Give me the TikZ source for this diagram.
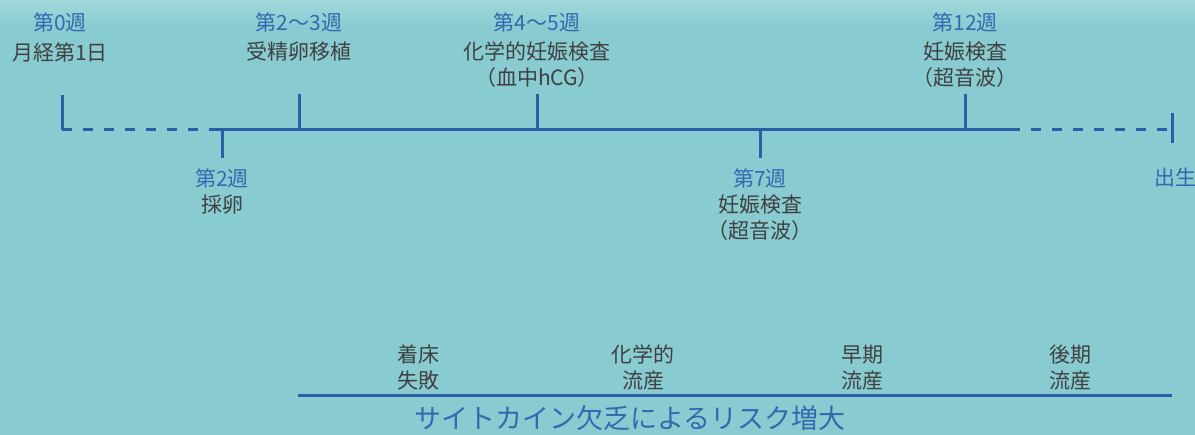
\documentclass[tikz,border=0pt]{standalone}
\usepackage{fontspec}
\setmainfont{Noto Sans CJK JP}
\definecolor{bg}{HTML}{88CBD1}
\definecolor{bgtop}{HTML}{A0D8DB}
\definecolor{lineblue}{HTML}{2A5EA6}
\definecolor{txtblue}{HTML}{2F6BAE}
\definecolor{txtdark}{HTML}{404040}
\begin{document}
\begin{tikzpicture}[x=1pt,y=-1pt,
  wk/.style={text=txtblue,font=\fontsize{21}{24}\selectfont,inner sep=0pt,anchor=center},
  ds/.style={text=txtdark,font=\fontsize{21}{26}\selectfont,inner sep=0pt,anchor=center,align=center},
  tl/.style={draw=lineblue,line width=3pt},
  tld/.style={tl,dash pattern=on 10pt off 11pt}]
\useasboundingbox (0,0) rectangle (1195,435);
\fill[bg] (0,0) rectangle (1195,435);
\shade[top color=bgtop,bottom color=bg] (0,0) rectangle (1195,28);
% timeline coordinates
\coordinate (t0) at (62,130);
\coordinate (t0u) at (62,95);
\coordinate (s0) at (218,130);
\coordinate (t2) at (222,130);
\coordinate (t2d) at (222,158);
\coordinate (t23) at (299,130);
\coordinate (t23u) at (299,94);
\coordinate (t45) at (537,130);
\coordinate (t45u) at (537,94);
\coordinate (t7) at (760,130);
\coordinate (t7d) at (760,158);
\coordinate (t12) at (965,130);
\coordinate (t12u) at (965,94);
\coordinate (s1) at (1010,130);
\coordinate (tb) at (1172,130);
\coordinate (tbu) at (1172,113);
\coordinate (tbd) at (1172,143);
% lines
\draw[tl] (t0u) -- (t0);
\draw[tld] (t0) -- (s0);
\draw[tl] (s0) -- (s1);
\draw[tld] (s1) -- (tb);
\draw[tl] (tbu) -- (tbd);
\draw[tl] (t2) -- (t2d);
\draw[tl] (t23) -- (t23u);
\draw[tl] (t45) -- (t45u);
\draw[tl] (t7) -- (t7d);
\draw[tl] (t12) -- (t12u);
% top labels
\node[wk] (w0) at (60,22) {第0週};
\node[ds] (d0) at (60,52) {月経第1日};
\node[wk] (w23) at (299,22) {第2～3週};
\node[ds] (d23) at (299,52) {受精卵移植};
\node[wk] (w45) at (537,22) {第4～5週};
\node[ds,anchor=north] (d45) at (537,42) {化学的妊娠検査\\（血中hCG）};
\node[wk] (w12) at (965,22) {第12週};
\node[ds,anchor=north] (d12) at (965,42) {妊娠検査\\（超音波）};
% bottom labels
\node[wk] (w2) at (222,178) {第2週};
\node[ds] (d2) at (222,205) {採卵};
\node[wk] (w7) at (760,178) {第7週};
\node[ds,anchor=north] (d7) at (760,195) {妊娠検査\\（超音波）};
\node[wk,anchor=west] (wb) at (1154,178) {出生};
% risk
\node[ds,anchor=north] (r1) at (418,345) {着床\\失敗};
\node[ds,anchor=north] (r2) at (643,345) {化学的\\流産};
\node[ds,anchor=north] (r3) at (862,345) {早期\\流産};
\node[ds,anchor=north] (r4) at (1070,345) {後期\\流産};
\coordinate (rl) at (298,396);
\coordinate (rr) at (1172,396);
\draw[tl] (rl) -- (rr);
\node[text=txtblue,font=\fontsize{27}{30}\selectfont,inner sep=0pt,anchor=west] (risk) at (414,418) {サイトカイン欠乏によるリスク増大};
\end{tikzpicture}
\end{document}
